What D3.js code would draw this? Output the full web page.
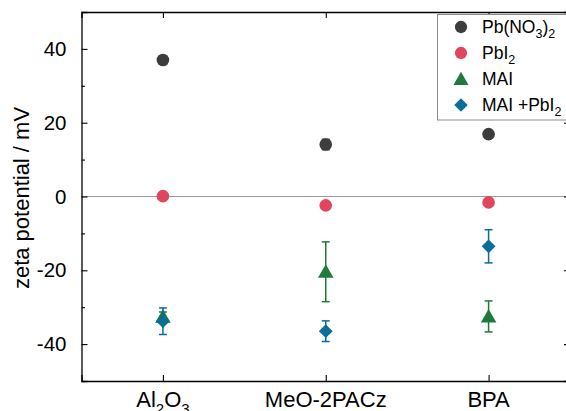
<!DOCTYPE html>
<html>
<head>
<meta charset="utf-8">
<script src="https://cdn.jsdelivr.net/npm/d3@7"></script>
<style>
  body { margin: 0; background: #fff; }
  svg { display: block; font-family: "Liberation Sans", Arial, sans-serif; }
</style>
</head>
<body>
<svg id="chart" width="566" height="411"></svg>
<script>
// data
var categories = ["Al2O3", "MeO-2PACz", "BPA"];
var categoryLabels = [[["Al", 0], ["2", 1], ["O", 0], ["3", 1]], [["MeO-2PACz", 0]], [["BPA", 0]]];
var pbNO3 = [37.0, 14.1, 16.9];
var pbNO3Err = [1.0, 1.4, 0.5];
var pbI2 = [0.1, -2.4, -1.6];
var pbI2Err = [0.3, 0.3, 0.3];
var mai = [-32.6, -20.4, -32.5];
var maiErr = [1.3, 8.1, 4.2];
var maiPbI2 = [-33.8, -36.5, -13.5];
var maiPbI2Err = [3.6, 2.8, 4.5];
var yTicks = [-40, -20, 0, 20, 40];
var yMinor = [-30, -10, 10, 30];

var series = [
  {name: [["Pb(NO", 0], ["3", 1], [")", 0], ["2", 1]], values: pbNO3, err: pbNO3Err, color: "#3d3d3d", shape: "circle"},
  {name: [["PbI", 0], ["2", 1]], values: pbI2, err: pbI2Err, color: "#e0465c", shape: "circle"},
  {name: [["MAI", 0]], values: mai, err: maiErr, color: "#1f7a3b", shape: "triangle"},
  {name: [["MAI +PbI", 0], ["2", 1]], values: maiPbI2, err: maiPbI2Err, color: "#086e98", shape: "diamond"}
];

var svg = d3.select("#chart");
var mLeft = 81.5, mRight = 570, mTop = 12, mBottom = 381;

var x = d3.scalePoint().domain(categories).range([mLeft, mRight]).padding(0.5);
var y = d3.scaleLinear().domain([-50, 50]).range([mBottom, mTop]);

// zero line
svg.append("line")
  .attr("x1", mLeft).attr("x2", mRight)
  .attr("y1", y(0)).attr("y2", y(0))
  .attr("stroke", "#9a9a9a").attr("stroke-width", 1.2);

// axes, ticks pointing inward
var axLeft = svg.append("g").attr("transform", "translate(" + mLeft + ",0)")
  .call(d3.axisLeft(y).tickValues(yTicks).tickSize(-6).tickPadding(15).tickFormat(function(d) { return String(d); }));
svg.append("g").attr("transform", "translate(" + mLeft + ",0)")
  .call(d3.axisLeft(y).tickValues(yMinor).tickSize(-3.5).tickFormat(""))
  .select(".domain").remove();
svg.append("g").attr("transform", "translate(" + mRight + ",0)")
  .call(d3.axisRight(y).tickValues(yTicks).tickSize(-6).tickFormat(""));
svg.append("g").attr("transform", "translate(0," + mBottom + ")")
  .call(d3.axisBottom(x).tickSize(-6).tickFormat(""));
svg.append("g").attr("transform", "translate(0," + mTop + ")")
  .call(d3.axisTop(x).tickSize(-6).tickFormat(""));

svg.selectAll(".domain").attr("stroke", "#000").attr("stroke-width", 1.3);
svg.selectAll(".tick line").attr("stroke", "#000").attr("stroke-width", 1.1);
svg.selectAll(".tick text").filter(function() { return !this.textContent; }).remove();
axLeft.selectAll("text").attr("font-size", 20.5).attr("fill", "#000")
  .attr("font-family", "Liberation Sans, Arial, sans-serif");

// text with subscripts: parts are [string, isSub]
function richText(sel, parts, size, subSize) {
  sel.attr("font-size", size);
  var shift = 0;
  parts.forEach(function(p) {
    var want = p[1] ? size * 0.3 : 0;
    sel.append("tspan")
      .attr("font-size", p[1] ? subSize : size)
      .attr("dy", want - shift)
      .text(p[0]);
    shift = want;
  });
}

// category labels
categories.forEach(function(c, i) {
  var t = svg.append("text")
    .attr("x", x(c)).attr("y", 407)
    .attr("text-anchor", "middle")
    .attr("fill", "#000");
  richText(t, categoryLabels[i], 22, 15);
});

// y title
svg.append("text")
  .attr("transform", "translate(29," + 198 + ") rotate(-90)")
  .attr("text-anchor", "middle")
  .attr("font-size", 22)
  .attr("fill", "#000")
  .text("zeta potential / mV");

var symbols = {circle: d3.symbolCircle, triangle: d3.symbolTriangle, diamond: d3.symbolSquare};
var sizes = {circle: 125, triangle: 105, diamond: 95};
function symTransform(shape) {
  if (shape == "diamond") return " rotate(45)";
  return "";
}

// points and error bars
series.forEach(function(s) {
  var g = svg.append("g");
  var pts = categories.map(function(c, i) { return {c: c, v: s.values[i], e: s.err[i]}; });
  var eb = g.selectAll(".eb").data(pts).enter().append("g")
    .attr("stroke", s.color).attr("stroke-width", 1.5);
  eb.append("line")
    .attr("x1", function(d) { return x(d.c); }).attr("x2", function(d) { return x(d.c); })
    .attr("y1", function(d) { return y(d.v + d.e); }).attr("y2", function(d) { return y(d.v - d.e); });
  [1, -1].forEach(function(k) {
    eb.append("line")
      .attr("x1", function(d) { return x(d.c) - 4; }).attr("x2", function(d) { return x(d.c) + 4; })
      .attr("y1", function(d) { return y(d.v + k * d.e); }).attr("y2", function(d) { return y(d.v + k * d.e); });
  });
  g.selectAll(".pt").data(pts).enter().append("path")
    .attr("d", d3.symbol().type(symbols[s.shape]).size(sizes[s.shape]))
    .attr("transform", function(d) {
      var dy = s.shape == "triangle" ? 1.5 : 0;
      return "translate(" + x(d.c) + "," + (y(d.v) + dy) + ")" + symTransform(s.shape);
    })
    .attr("fill", s.color);
});

// legend
var lg = svg.append("g");
lg.append("rect")
  .attr("x", 437.5).attr("y", 14.5).attr("width", 140).attr("height", 105.5)
  .attr("fill", "#fff").attr("stroke", "#8a8a8a").attr("stroke-width", 1);
series.forEach(function(s, i) {
  var yy = 27 + i * 26;
  lg.append("path")
    .attr("d", d3.symbol().type(symbols[s.shape]).size(sizes[s.shape] * 0.95))
    .attr("transform", "translate(461," + (yy + (s.shape == "triangle" ? 1.5 : 0)) + ")" + symTransform(s.shape))
    .attr("fill", s.color);
  var t = lg.append("text").attr("x", 482).attr("y", yy + 6).attr("fill", "#000");
  richText(t, s.name, 17.5, 12.5);
});
</script>
</body>
</html>
